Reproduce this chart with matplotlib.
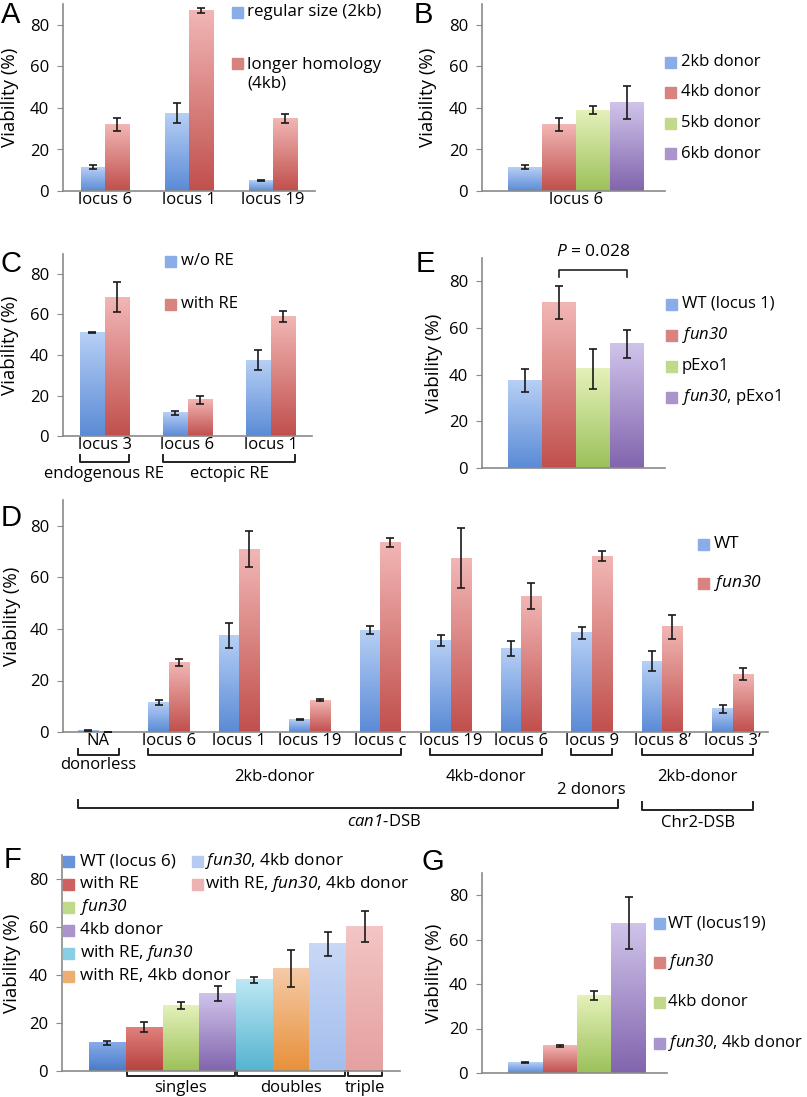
import numpy as np
import matplotlib
matplotlib.use("Agg")
import matplotlib.pyplot as plt
from matplotlib.colors import LinearSegmentedColormap, to_rgb
from matplotlib.patches import Rectangle
from matplotlib.transforms import blended_transform_factory

plt.rcParams["font.family"] = ["Open Sans", "DejaVu Sans"]
plt.rcParams["mathtext.fontset"] = "custom"
plt.rcParams["mathtext.it"] = "Open Sans:italic"
plt.rcParams["mathtext.rm"] = "Open Sans:italic"   # only italic words go through mathtext

# ---- data -------------------------------------------------------------
# A: homology length
a_loci = ["locus 6", "locus 1", "locus 19"]
a_2kb = [11.5, 37.5, 5]
a_2kb_err = [1, 4.8, 0.3]
a_4kb = [32, 87, 35]
a_4kb_err = [3, 1, 2]

# B: donor size at locus 6
b_labels = ["2kb donor", "4kb donor", "5kb donor", "6kb donor"]
b_vals = [11.5, 32, 39, 42.5]
b_err = [1, 3, 2, 8]

# C: recombination enhancer
c_loci = ["locus 3", "locus 6", "locus 1"]
c_wo = [51, 11.5, 37.5]
c_wo_err = [0.3, 1, 4.8]
c_with = [68.5, 18, 59]
c_with_err = [7.5, 2, 2.6]

# E: fun30 / pExo1 at locus 1
e_labels = ["WT (locus 1)", r"$\it{fun30}$", "pExo1", r"$\it{fun30}$, pExo1"]
e_vals = [37.5, 71, 42.5, 53.2]
e_err = [4.8, 7, 8.7, 6]

# D: WT vs fun30 over loci
d_loci = ["NA", "locus 6", "locus 1", "locus 19", "locus c",
          "locus 19", "locus 6", "locus 9", "locus 8\u2019", "locus 3\u2019"]
d_wt = [0.4, 11.5, 37.5, 5, 39.5, 35.5, 32.5, 38.5, 27.5, 9]
d_wt_err = [0.2, 1, 4.8, 0.2, 1.5, 2, 2.8, 2.2, 3.8, 1.5]
d_fun30 = [0, 27, 71, 12.3, 73.5, 67.5, 52.8, 68.3, 40.8, 22.5]
d_fun30_err = [0, 1.3, 7, 0.4, 1.8, 11.7, 5, 1.8, 4.5, 2.3]

# F: combinations
f_labels = ["WT (locus 6)", "with RE", r"$\it{fun30}$", "4kb donor",
            r"with RE, $\it{fun30}$", "with RE, 4kb donor",
            r"$\it{fun30}$, 4kb donor", r"with RE, $\it{fun30}$, 4kb donor"]
f_vals = [11.7, 18.3, 27.3, 32.3, 38, 42.8, 53, 60.3]
f_err = [1, 2, 1.5, 3, 1.3, 7.7, 4.9, 6.4]

# G: locus 19
g_labels = ["WT (locus19)", r"$\it{fun30}$", "4kb donor", r"$\it{fun30}$, 4kb donor"]
g_vals = [4.8, 12.2, 35, 67.3]
g_err = [0.2, 0.4, 2, 11.7]

# ---- colours (top, bottom of the Excel-like gradient) ------------------
BLUE = ("#b6cff5", "#5b8bd6")
RED = ("#f1b6b4", "#c1504d")
GREEN = ("#e4f1b9", "#9cc15a")
PURPLE = ("#cfc3ea", "#8265ae")
F_COLS = [("#86abe8", "#4a7bc8"), ("#e0807c", "#b7423f"), GREEN, PURPLE,
          ("#bde7f4", "#55b4d0"), ("#f5caa6", "#e8913b"),
          ("#c8d8f6", "#a3bded"), ("#f3c5c4", "#e4a1a0")]

W, H = 807, 1097
fig = plt.figure(figsize=(W / 100, H / 100), dpi=100)


def fy(y):
    return 1 - y / H


def mid(c):
    return tuple((np.array(to_rgb(c[0])) + np.array(to_rgb(c[1]))) / 2)


def panel(x0, x1, y0, ppu, xlim, fs=12):
    ax = fig.add_axes([x0 / W, fy(y0), (x1 - x0) / W, 90 * ppu / H])
    ax.set_xlim(*xlim)
    ax.set_ylim(0, 90)
    ax.set_yticks([0, 20, 40, 60, 80])
    for s in ["top", "right"]:
        ax.spines[s].set_visible(False)
    for s in ["left", "bottom"]:
        ax.spines[s].set_color("#8a8a8a")
        ax.spines[s].set_linewidth(1.2)
    ax.tick_params(axis="y", length=4, color="#8a8a8a", pad=6, labelsize=fs)
    ax.tick_params(axis="x", length=0, pad=1, labelsize=fs)
    ax.set_xticks([])
    return ax


def ylabel(ax, xc, fs=13.5):
    ax.set_ylabel("Viability (%)", fontsize=fs, va="center")
    ax.yaxis.set_label_coords(xc / W, 0.5,
                              transform=blended_transform_factory(fig.transFigure, ax.transAxes))


def bars(ax, x, vals, err, w, col):
    bs = ax.bar(x, vals, w, color="none", zorder=2)
    cmap = LinearSegmentedColormap.from_list("g", [col[1], col[0]])
    for b in bs:
        h = b.get_height()
        if h <= 0:
            continue
        ax.imshow(np.linspace(0, 1, 64)[:, None], cmap=cmap, origin="lower",
                  extent=(b.get_x(), b.get_x() + b.get_width(), 0, h),
                  aspect="auto", interpolation="bilinear", zorder=1.5)
    ax.errorbar(x, vals, yerr=err, fmt="none", ecolor="#1a1a1a", elinewidth=1.2,
                capsize=3.2, capthick=1.2, zorder=3)
    return bs


def legend(items, cols, xp, xt, ys, yts=None, fs=12, sz=11):
    yts = ys if yts is None else yts
    for lab, c, y, yt in zip(items, cols, ys, yts):
        fig.patches.append(Rectangle((xp / W, fy(y + sz / 2)), sz / W, sz / H,
                                     transform=fig.transFigure, color=mid(c)))
        fig.text(xt / W, fy(yt), lab, fontsize=fs, va="center", ha="left")


def bracket(ax, x0, x1, y_line, y_tip, lw=1.4):
    tr = blended_transform_factory(ax.transData, fig.transFigure)
    ax.plot([x0, x0, x1, x1], [fy(y_tip), fy(y_line), fy(y_line), fy(y_tip)],
            transform=tr, clip_on=False, color="#222222", lw=lw)


def btext(ax, x, y, s, fs=12, ha="center"):
    tr = blended_transform_factory(ax.transData, fig.transFigure)
    ax.text(x, fy(y), s, transform=tr, fontsize=fs, ha=ha, va="center")


def letter(x, y, s):
    fig.text(x / W, fy(y), s, fontsize=21, family="Liberation Sans",
             ha="center", va="center")


# ---- A ---------------------------------------------------------------
axA = panel(63, 315, 191, 2.075, (0, 3))
xa = np.arange(len(a_loci)) + 0.5
wa = 0.286
bars(axA, xa - wa / 2, a_2kb, a_2kb_err, wa, BLUE)
bars(axA, xa + wa / 2, a_4kb, a_4kb_err, wa, RED)
axA.set_xticks(xa, a_loci)
ylabel(axA, 10)
legend(["regular size (2kb)", "longer homology\n(4kb)"], [BLUE, RED],
       232, 247, [12, 63], [12, 74], fs=12.2)
letter(11, 15, "A")

# ---- B ---------------------------------------------------------------
axB = panel(482, 665, 191, 2.075, (-1.265, 4.118))
xb = np.arange(len(b_vals))
for i, c in enumerate([BLUE, RED, GREEN, PURPLE]):
    bars(axB, [xb[i]], [b_vals[i]], [b_err[i]], 1.0, c)
axB.set_xticks([xb.mean()], ["locus 6"])
ylabel(axB, 428)
legend(b_labels, [BLUE, RED, GREEN, PURPLE], 665, 681, [62 + 30.5 * i for i in range(4)])
letter(423, 15, "B")

# ---- C ---------------------------------------------------------------
axC = panel(63, 312, 436, 2.025, (0, 3))
xc = np.arange(len(c_loci)) + 0.5
wc = 0.29
bars(axC, xc - wc / 2, c_wo, c_wo_err, wc, BLUE)
bars(axC, xc + wc / 2, c_with, c_with_err, wc, RED)
axC.set_xticks(xc, c_loci)
ylabel(axC, 10)
legend(["w/o RE", "with RE"], [BLUE, RED], 165, 181, [261, 304])
bracket(axC, xc[0] - wc, xc[0] + wc, 462, 455)
bracket(axC, xc[1] - wc, xc[2] + wc, 462, 455)
btext(axC, xc[0], 474, "endogenous RE")
btext(axC, (xc[1] + xc[2]) / 2, 474, "ectopic RE")
letter(11, 264, "C")

# ---- E ---------------------------------------------------------------
axE = panel(482, 665, 468, 2.333, (-1.265, 4.118))
xe = np.arange(len(e_vals))
for i, c in enumerate([BLUE, RED, GREEN, PURPLE]):
    bars(axE, [xe[i]], [e_vals[i]], [e_err[i]], 1.0, c)
ylabel(axE, 434)
legend(e_labels, [BLUE, RED, GREEN, PURPLE], 666, 682, [304 + 31 * i for i in range(4)])
bracket(axE, xe[1], xe[3], 270, 277, lw=1.2)
btext(axE, (xe[1] + xe[3]) / 2, 252, r"$P$ = 0.028", fs=12.5)
letter(425, 264, "E")

# ---- D ---------------------------------------------------------------
axD = panel(63, 768, 732, 2.575, (0, 10))
xd = np.arange(len(d_loci)) + 0.5
wd = 0.29
bars(axD, xd - wd / 2, d_wt, d_wt_err, wd, BLUE)
bars(axD, xd + wd / 2, d_fun30, d_fun30_err, wd, RED)
axD.set_xticks(xd, d_loci)
ylabel(axD, 12)
legend(["WT", r"$\it{fun30}$"], [BLUE, RED], 698, 714, [544, 583], fs=12.5)
bracket(axD, xd[0] - wd, xd[0] + wd, 755, 749)
bracket(axD, xd[1] - wd, xd[4] + wd, 755, 749)
bracket(axD, xd[5] - wd, xd[6] + wd, 755, 749)
bracket(axD, xd[7] - wd, xd[7] + wd, 755, 749)
bracket(axD, xd[8] - wd, xd[9] + wd, 755, 749)
btext(axD, xd[0], 765, "donorless")
btext(axD, (xd[1] + xd[4]) / 2, 777, "2kb-donor")
btext(axD, (xd[5] + xd[6]) / 2, 777, "4kb-donor")
btext(axD, (xd[8] + xd[9]) / 2, 777, "2kb-donor")
btext(axD, xd[7], 790, "2 donors")
bracket(axD, xd[0] - wd, xd[7] + wd + 0.08, 808, 800)
bracket(axD, xd[8] - wd, xd[9] + wd, 810, 802)
btext(axD, 4.55, 822, r"$\it{can1}$-DSB", ha="center")
btext(axD, (xd[8] + xd[9]) / 2, 823, "Chr2-DSB")
letter(11, 518, "D")

# ---- F ---------------------------------------------------------------
axF = panel(62, 400, 1071, 2.4, (-1.235, 7.963))
xf = np.arange(len(f_vals))
for i, c in enumerate(F_COLS):
    bars(axF, [xf[i]], [f_vals[i]], [f_err[i]], 1.0, c)
ylabel(axF, 12)
legend(f_labels[:6], F_COLS[:6], 63, 80, [861 + 23 * i for i in range(6)], fs=12.3)
legend(f_labels[6:], F_COLS[6:], 192, 205, [861, 884], fs=12.3)
for lo, hi, lab in [(1, 3, "singles"), (4, 6, "doubles"), (7, 7, "triple")]:
    bracket(axF, xf[lo] - 0.5 + 0.04, xf[hi] + 0.5 - 0.04, 1076, 1071)
    btext(axF, (xf[lo] + xf[hi]) / 2, 1088, lab)
letter(12, 860, "F")

# ---- G ---------------------------------------------------------------
axG = panel(482, 667, 1073, 2.225, (-1.254, 4.109))
xg = np.arange(len(g_vals))
for i, c in enumerate([BLUE, RED, GREEN, PURPLE]):
    bars(axG, [xg[i]], [g_vals[i]], [g_err[i]], 1.0, c)
ylabel(axG, 434)
legend(g_labels, [BLUE, RED, GREEN, PURPLE], 654, 668, [923, 962, 1002, 1043], fs=12.0)
letter(433, 862, "G")

for ax in [axA, axB, axC, axD, axE, axF, axG]:
    ax.set_ylim(0, 90)

fig.savefig("out.png", dpi=100)
